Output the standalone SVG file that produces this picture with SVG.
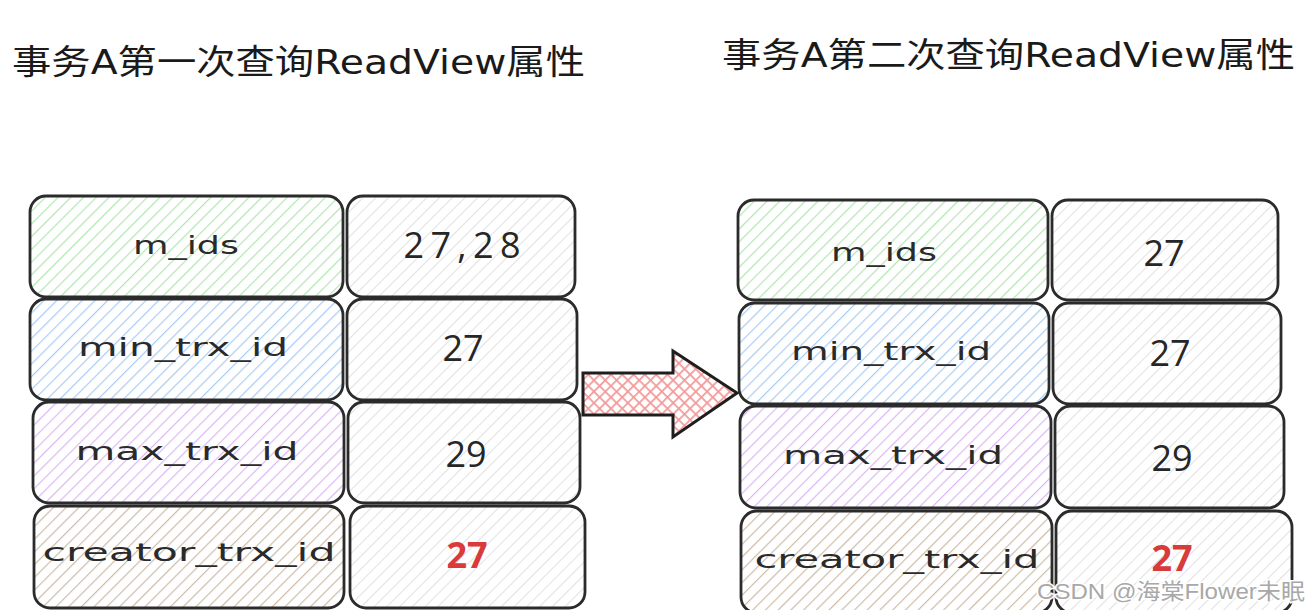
<svg xmlns="http://www.w3.org/2000/svg" width="1308" height="610" viewBox="0 0 1308 610">
<defs>
<pattern id="hG" patternUnits="userSpaceOnUse" width="9" height="9" patternTransform="rotate(45)"><line x1="0" y1="0" x2="0" y2="9" stroke="#b3e6b3" stroke-width="2.4"/></pattern>
<pattern id="hB" patternUnits="userSpaceOnUse" width="9" height="9" patternTransform="rotate(45)"><line x1="0" y1="0" x2="0" y2="9" stroke="#a9cdf5" stroke-width="2.4"/></pattern>
<pattern id="hP" patternUnits="userSpaceOnUse" width="9" height="9" patternTransform="rotate(45)"><line x1="0" y1="0" x2="0" y2="9" stroke="#dcb8f5" stroke-width="2.4"/></pattern>
<pattern id="hT" patternUnits="userSpaceOnUse" width="9" height="9" patternTransform="rotate(45)"><line x1="0" y1="0" x2="0" y2="9" stroke="#cdbca8" stroke-width="2.4"/></pattern>
<pattern id="hW" patternUnits="userSpaceOnUse" width="9" height="9" patternTransform="rotate(45)"><line x1="0" y1="0" x2="0" y2="9" stroke="#e2e2e2" stroke-width="2.2"/></pattern>
<pattern id="hR" patternUnits="userSpaceOnUse" width="8" height="8" patternTransform="rotate(45)"><line x1="0" y1="0" x2="0" y2="8" stroke="#f29a9a" stroke-width="3.5"/><line x1="0" y1="0" x2="8" y2="0" stroke="#f29a9a" stroke-width="3.5"/></pattern>
</defs>
<style>
.box{stroke:#2b2b2b;stroke-width:2.8}
.g{fill:url(#hG)} .b{fill:url(#hB)} .p{fill:url(#hP)} .t{fill:url(#hT)} .w{fill:url(#hW)}
.lbl{font-family:"DejaVu Sans",sans-serif;font-size:24px;fill:#2a2a2a;text-anchor:middle}
.val{font-family:"Open Sans","DejaVu Sans",sans-serif;font-size:36px;fill:#262626;text-anchor:middle}
.red{fill:#d93a3a;font-weight:bold}
.title{font-family:"DejaVu Sans","Noto Sans CJK SC",sans-serif;font-size:34px;fill:#1a1a1a}
.wm{font-family:"Liberation Sans","Noto Sans CJK SC",sans-serif;font-size:22px;fill:#a8a8a8}
</style>
<rect width="1308" height="610" fill="#ffffff"/>
<g id="title1"><text class="title" x="12" y="74" textLength="573" lengthAdjust="spacingAndGlyphs">事务A第一次查询ReadView属性</text></g>
<g id="title2"><text class="title" x="722" y="67" textLength="573" lengthAdjust="spacingAndGlyphs">事务A第二次查询ReadView属性</text></g>

<g id="l-mids"><rect class="box g" x="30" y="196" width="313" height="101" rx="16"/><text class="lbl" x="186" y="254" textLength="106" lengthAdjust="spacingAndGlyphs">m_ids</text></g>
<g id="l-mids-v"><rect class="box w" x="347" y="196" width="228" height="101" rx="16"/><text class="val" x="462" y="258" textLength="117" lengthAdjust="spacing">27,28</text></g>
<g id="l-min"><rect class="box b" x="30" y="299" width="313" height="101" rx="16"/><text class="lbl" x="183" y="356" textLength="210" lengthAdjust="spacingAndGlyphs">min_trx_id</text></g>
<g id="l-min-v"><rect class="box w" x="347" y="299" width="230" height="101" rx="16"/><text class="val" x="463" y="361">27</text></g>
<g id="l-max"><rect class="box p" x="33" y="402" width="311" height="101" rx="16"/><text class="lbl" x="187" y="460" textLength="223" lengthAdjust="spacingAndGlyphs">max_trx_id</text></g>
<g id="l-max-v"><rect class="box w" x="348" y="402" width="232" height="101" rx="16"/><text class="val" x="466" y="467">29</text></g>
<g id="l-cre"><rect class="box t" x="34" y="506" width="310" height="102" rx="16"/><text class="lbl" x="189" y="561" textLength="293" lengthAdjust="spacingAndGlyphs">creator_trx_id</text></g>
<g id="l-cre-v"><rect class="box w" x="350" y="506" width="235" height="102" rx="16"/><text class="val red" x="467" y="568">27</text></g>

<g id="r-mids"><rect class="box g" x="738" y="200" width="310" height="100" rx="16"/><text class="lbl" x="884" y="261" textLength="106" lengthAdjust="spacingAndGlyphs">m_ids</text></g>
<g id="r-mids-v"><rect class="box w" x="1052" y="200" width="226" height="100" rx="16"/><text class="val" x="1164" y="266">27</text></g>
<g id="r-min"><rect class="box b" x="739" y="303" width="310" height="101" rx="16"/><text class="lbl" x="891" y="360" textLength="200" lengthAdjust="spacingAndGlyphs">min_trx_id</text></g>
<g id="r-min-v"><rect class="box w" x="1053" y="303" width="228" height="101" rx="16"/><text class="val" x="1170" y="366">27</text></g>
<g id="r-max"><rect class="box p" x="740" y="406" width="311" height="102" rx="16"/><text class="lbl" x="893" y="464" textLength="220" lengthAdjust="spacingAndGlyphs">max_trx_id</text></g>
<g id="r-max-v"><rect class="box w" x="1055" y="406" width="229" height="102" rx="16"/><text class="val" x="1172" y="471">29</text></g>
<g id="r-cre"><rect class="box t" x="741" y="511" width="311" height="102" rx="16"/><text class="lbl" x="897" y="568" textLength="285" lengthAdjust="spacingAndGlyphs">creator_trx_id</text></g>
<g id="r-cre-v"><rect class="box w" x="1056" y="511" width="236" height="102" rx="16"/><text class="val red" x="1172" y="571">27</text></g>

<g id="connectors">
<polygon points="583,373 673,373 673,351 737,393 673,437 673,415 583,415" fill="url(#hR)" stroke="#1e1e1e" stroke-width="3" stroke-linejoin="miter"/>
</g>
<g id="watermark"><text class="wm" x="1037" y="599" textLength="268" lengthAdjust="spacingAndGlyphs" stroke="#ffffff" stroke-width="3" paint-order="stroke">CSDN @海棠Flower未眠</text></g>
</svg>
